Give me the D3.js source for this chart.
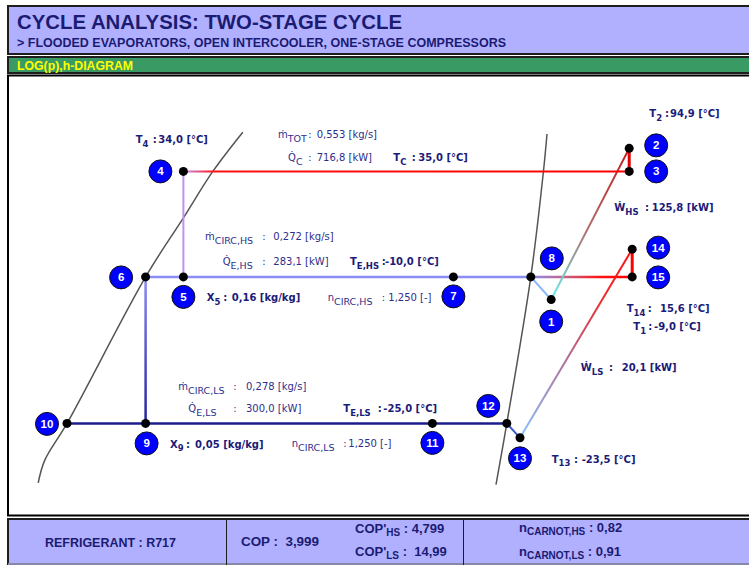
<!DOCTYPE html>
<html><head><meta charset="utf-8">
<script src="https://cdn.jsdelivr.net/npm/d3@7"></script>
<style>body{margin:0;background:#fff} text{white-space:pre}</style>
</head><body><svg id="c" width="749" height="565"></svg>
<script>
// ---------- DATA (schematic log(p)-h units) ----------
const pointIds = ["1","2","3","4","5","6","7","8","9","10","11","12","13","14","15"];
const pointH   = [85.2, 98.2, 98.2, 23.9, 23.9, 17.6, 68.9, 81.8, 17.6, 4.5, 65.4, 77.8, 80.0, 98.7, 98.7];
const pointLogP= [52.9, 94.9, 88.5, 88.5, 59.2, 59.2, 59.2, 59.2, 18.5, 18.5, 18.5, 18.5, 14.5, 66.9, 59.2];
const satLiqH  = [-0.3, 0.8, 4.5, 17.6, 23.9, 28.8, 33.8];
const satLiqP  = [2.0, 8.3, 18.5, 59.2, 75.6, 88.5, 99.4];
const satVapH  = [76.0, 77.8, 81.8, 83.9, 84.5];
const satVapP  = [1.5, 18.5, 59.2, 88.4, 98.9];

const annMain  = ["T","ṁ","Q̇","T","T","Ẇ","ṁ","Q̇","T","X","n","T","T","Ẇ","ṁ","Q̇","T","X","n","T"];
const annSub   = ["4","TOT","C","C","2","HS","CIRC,HS","E,HS","E,HS","5","CIRC,HS","14","1","LS","CIRC,LS","E,LS","E,LS","9","CIRC,LS","13"];
const annValue = ["34,0 [°C]","0,553 [kg/s]","716,8 [kW]","35,0 [°C]","94,9 [°C]","125,8 [kW]","0,272 [kg/s]","283,1 [kW]","-10,0 [°C]","0,16 [kg/kg]","1,250 [-]","15,6 [°C]","-9,0 [°C]","20,1 [kW]","0,278 [kg/s]","300,0 [kW]","-25,0 [°C]","0,05 [kg/kg]","1,250 [-]","-23,5 [°C]"];
const annBold  = [1,0,0,1,1,1,0,0,1,1,0,1,1,1,0,0,1,1,0,1];

const titleText = "CYCLE ANALYSIS: TWO-STAGE CYCLE";
const subtitleText = "> FLOODED EVAPORATORS, OPEN INTERCOOLER, ONE-STAGE COMPRESSORS";
const sectionText = "LOG(p),h-DIAGRAM";
const refrigerant = "R717";
const cop = "3,999";
const copHS = "4,799", copLS = "14,99";
const carnotHS = "0,82", carnotLS = "0,91";

// ---------- LAYOUT ----------
const svg = d3.select("#c");
const x = d3.scaleLinear().domain([0,100]).range([40,640]);
const y = d3.scaleLinear().domain([0,100]).range([490,130]);
const P = {};
pointIds.forEach((id,i)=>P[id]={x:x(pointH[i]), y:y(pointLogP[i])});

const navy = "#1b1b72";
// header
svg.append("rect").attr("x",8).attr("y",6).attr("width",760).attr("height",48)
  .attr("fill","#b0b0ff").attr("stroke","#1e1e1e").attr("stroke-width",2);
svg.append("text").attr("x",17).attr("y",29).attr("font-family","Liberation Sans, Arial, sans-serif")
  .attr("font-weight","bold").attr("font-size",20).attr("fill",navy)
  .attr("textLength",385).attr("lengthAdjust","spacingAndGlyphs").text(titleText);
svg.append("text").attr("x",17).attr("y",47).attr("font-family","Liberation Sans Narrow, Arial Narrow, Liberation Sans, sans-serif")
  .attr("font-weight","bold").attr("font-size",13).attr("fill",navy)
  .attr("textLength",489).attr("lengthAdjust","spacingAndGlyphs").text(subtitleText);
// green bar
svg.append("rect").attr("x",8).attr("y",57).attr("width",760).attr("height",16)
  .attr("fill","#3a9a63").attr("stroke","#1e1e1e").attr("stroke-width",2);
svg.append("text").attr("x",17).attr("y",70).attr("font-family","Liberation Sans Narrow, Arial Narrow, Liberation Sans, sans-serif")
  .attr("font-weight","bold").attr("font-size",13).attr("fill","#ffff00")
  .attr("textLength",116).attr("lengthAdjust","spacingAndGlyphs").text(sectionText);
// diagram frame
svg.append("rect").attr("x",8).attr("y",75.5).attr("width",760).attr("height",440)
  .attr("fill","#fff").attr("stroke","#000").attr("stroke-width",2);

// saturation curves
const sat = d3.line().x(d=>x(d[0])).y(d=>y(d[1])).curve(d3.curveCatmullRom);
svg.append("path").attr("d",sat(satLiqH.map((h,i)=>[h,satLiqP[i]])))
  .attr("fill","none").attr("stroke","#555").attr("stroke-width",1.5);
svg.append("path").attr("d",sat(satVapH.map((h,i)=>[h,satVapP[i]])))
  .attr("fill","none").attr("stroke","#555").attr("stroke-width",1.5);

// process lines
const segments = [
 {a:"6", b:"9",  c:["#8c8cf5","#22229a"], w:2.5},
 {a:"10",b:"12", c:["#1c1c8c"], w:2.5},
 {a:"12",b:"13", c:["#3a5ad0"], w:2},
 {a:"13",b:"14", c:["#86c4ff","#b0709a","#e83030","#ff1010"], s:[0,0.4,0.72,1], w:2},
 {a:"6", b:"8",  c:["#8c8cf5"], w:2.5},
 {a:"8", b:"15", c:["#8c8cf5","#c86080","#ff1010","#ff0000"], s:[0,0.35,0.7,1], w:2.5},
 {a:"8", b:"1",  c:["#88b4ff"], w:2},
 {a:"1", b:"2",  c:["#66f0f0","#b07070","#c01818"], s:[0,0.45,1], w:2},
 {a:"4", b:"5",  c:["#c090f4"], w:2},
 {a:"4", b:"3",  c:["#c890f0","#ff1010","#ff0000"], s:[0,0.07,1], w:2},
 {a:"3", b:"2",  c:["#e00000"], w:3},
 {a:"15",b:"14", c:["#ff0000"], w:3}
];
const defs = svg.append("defs");
segments.forEach((sg,i)=>{
  const p1=P[sg.a], p2=P[sg.b];
  let stroke = sg.c[0];
  if(sg.c.length>1){
    const id="g"+i;
    const g=defs.append("linearGradient").attr("id",id).attr("gradientUnits","userSpaceOnUse")
      .attr("x1",p1.x).attr("y1",p1.y).attr("x2",p2.x).attr("y2",p2.y);
    const st = sg.s || sg.c.map((c,k)=>k/(sg.c.length-1));
    sg.c.forEach((c,k)=>g.append("stop").attr("offset",st[k]).attr("stop-color",c));
    stroke="url(#"+id+")";
  }
  svg.append("line").attr("x1",p1.x).attr("y1",p1.y).attr("x2",p2.x+0.001).attr("y2",p2.y+0.001)
    .attr("stroke",stroke).attr("stroke-width",sg.w);
});

// dots
svg.selectAll("circle.dot").data(pointIds).join("circle").attr("class","dot")
  .attr("cx",d=>P[d].x).attr("cy",d=>P[d].y).attr("r",4.5).attr("fill","#000");

// numbered markers (offsets from dot)
const markOff = {"1":[0,22],"2":[27,-3],"3":[27,0],"4":[-23,0],"5":[0,20],"6":[-24.5,0.5],"7":[0,19.5],
 "8":[21,-18.5],"9":[1,20],"10":[-20,0.5],"11":[0,19.5],"12":[-18.5,-17.5],"13":[0,20.5],"14":[26,-1.5],"15":[26,0.5]};
const mk = svg.selectAll("g.mk").data(pointIds).join("g").attr("class","mk")
  .attr("transform",d=>`translate(${P[d].x+markOff[d][0]},${P[d].y+markOff[d][1]})`);
mk.append("circle").attr("r",11.5).attr("fill","#0000ff").attr("stroke","#111").attr("stroke-width",1);
mk.append("text").attr("text-anchor","middle").attr("dy",4).attr("fill","#fff")
  .attr("font-family","Liberation Sans, Arial, sans-serif").attr("font-weight","bold").attr("font-size",11.5).text(d=>d);

// annotations: [x of name, colon x, value x, baseline]
const annPos = [
 [135.7,152.7,158.3,143],[278,308.3,316.7,138],[288,308.3,316.7,161],[393.3,411.7,418.3,161],
 [649.3,665,670,117],[614.3,645,651.7,211],[205,262.3,273.3,240],[222.7,262.3,273.3,265],
 [350,381.7,385,265],[206.7,223.3,231.7,301],[327.7,381.7,388.3,301],[626.7,647.7,660,312],
 [633.3,648.3,654,330],[580.7,609,621.7,371],[178.3,233.3,246,390],[188.3,233.3,246,412],
 [343.3,377.7,383.3,412],[170,186,195,447.5],[291.7,343.3,348.3,447],[551.7,574,581.7,462.5]
];
annMain.forEach((m,i)=>{
  const [nx,cx,vx,by]=annPos[i];
  const bold = annBold[i]===1;
  const col = bold? "#1b1b78" : "#2e2e8a";
  const fw = bold? "bold":"normal";
  const t = svg.append("text").attr("x",nx).attr("y",by).attr("font-family","DejaVu Sans, Verdana, sans-serif")
    .attr("font-size",10).attr("font-weight",fw).attr("fill",col);
  t.append("tspan").text(m);
  t.append("tspan").attr("dy",3.5).attr("font-size",bold?8.5:9.5).text(annSub[i]);
  svg.append("text").attr("x",cx).attr("y",by).attr("font-family","DejaVu Sans, Verdana, sans-serif")
    .attr("font-size",10).attr("font-weight",fw).attr("fill",col).text(":");
  svg.append("text").attr("x",vx).attr("y",by).attr("font-family","DejaVu Sans, Verdana, sans-serif")
    .attr("font-size",10).attr("font-weight",fw).attr("fill",col).text(annValue[i]);
});

// bottom table
svg.append("rect").attr("x",8).attr("y",519).attr("width",760).attr("height",45)
  .attr("fill","#b0b0ff").attr("stroke","#1e1e1e").attr("stroke-width",2);
svg.append("line").attr("x1",8).attr("x2",760).attr("y1",564).attr("y2",564).attr("stroke","#8888aa").attr("stroke-width",2);
[226.5,463.5].forEach(xx=>svg.append("line").attr("x1",xx).attr("x2",xx).attr("y1",519).attr("y2",565)
  .attr("stroke","#1e1e1e").attr("stroke-width",1));
const tf = "Liberation Sans Narrow, Arial Narrow, Liberation Sans, sans-serif";
function tText(xx,yy,parts,len){
  const t = svg.append("text").attr("x",xx).attr("y",yy).attr("font-family",tf).attr("font-weight","bold")
    .attr("font-size",13).attr("fill",navy);
  if(len) t.attr("textLength",len).attr("lengthAdjust","spacingAndGlyphs");
  let sub=false;
  parts.forEach(p=>{
    const ts=t.append("tspan").text(p[0]);
    if(p[1]&&!sub){ts.attr("dy",3).attr("font-size",10);sub=true;}
    else if(!p[1]&&sub){ts.attr("dy",-3);sub=false;}
  });
  return t;
}
tText(45,547,[["REFRIGERANT : "+refrigerant]],131);
tText(241,546,[["COP :  "+cop]],78);
tText(355,533,[["COP'"],["HS",1],[" : "+copHS]]);
tText(355,556,[["COP'"],["LS",1],[" :  "+copLS]]);
tText(519,532,[["n"],["CARNOT,HS",1],[" : "+carnotHS]]);
tText(519,556,[["n"],["CARNOT,LS",1],[" : "+carnotLS]]);
</script></body></html>
